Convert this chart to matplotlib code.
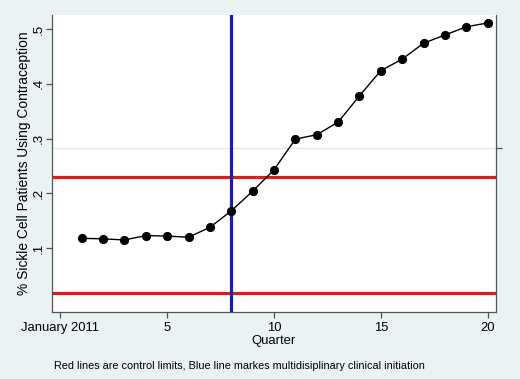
import matplotlib
matplotlib.use("Agg")
import matplotlib.pyplot as plt

plt.rcParams['font.family'] = ['Liberation Sans', 'DejaVu Sans']

quarters = list(range(1, 21))
pct_contraception = [0.118, 0.117, 0.115, 0.123, 0.122, 0.120, 0.138, 0.168,
                     0.204, 0.243, 0.299, 0.307, 0.330, 0.378, 0.424, 0.445,
                     0.474, 0.489, 0.504, 0.511]
upper_limit = 0.230
lower_limit = 0.019
center_line = 0.283
intervention_quarter = 8
x_ticks = [0, 5, 10, 15, 20]
x_ticklabels = ["January 2011", "5", "10", "15", "20"]
y_ticks = [0.1, 0.2, 0.3, 0.4, 0.5]
y_ticklabels = [".1", ".2", ".3", ".4", ".5"]

bg = "#eaf2f3"
fig = plt.figure(figsize=(5.2, 3.79), dpi=100, facecolor=bg)
ax = fig.add_axes([52/520, 1-312/379, (496-52)/520, (312-15)/379])
ax.set_facecolor("white")

ax.axhline(center_line, color="#e6e6e6", lw=0.9, zorder=1)
ax.axhline(upper_limit, color="#dc1c1c", lw=2.3, zorder=2)
ax.axhline(lower_limit, color="#dc1c1c", lw=2.3, zorder=2)
ax.axvline(intervention_quarter, color="#1c1cb4", lw=2.3, zorder=3)
ax.plot(quarters, pct_contraception, color="black", lw=1.0, marker="o",
        markersize=5.6, markerfacecolor="black", markeredgecolor="black", zorder=4)

ax.set_xlim(-0.39, 20.39)
ax.set_ylim(-0.0165, 0.5255)
ax.set_xticks(x_ticks)
ax.set_xticklabels(x_ticklabels, fontsize=9.4)
ax.set_yticks(y_ticks)
ax.set_yticklabels(y_ticklabels, fontsize=9.6, rotation=90, va="center")

for s in ["left", "bottom", "right"]:
    ax.spines[s].set_color("#555555")
    ax.spines[s].set_linewidth(0.9)
ax.spines["top"].set_visible(False)
ax.tick_params(axis="x", direction="out", length=4, width=0.9, color="#555555", pad=3)
ax.tick_params(axis="y", direction="out", length=4, width=0.9, color="#555555", pad=1)

ax2 = ax.twinx()
ax2.set_ylim(ax.get_ylim())
ax2.set_yticks([center_line])
ax2.set_yticklabels([""])
ax2.tick_params(axis="y", direction="out", length=4, width=0.9, color="#555555")
for s in ax2.spines.values():
    s.set_visible(False)

ax.set_xlabel("Quarter", fontsize=9.4, labelpad=1)
ax.set_ylabel("% Sickle Cell Patients Using Contraception", fontsize=9.9, labelpad=0)
ax.yaxis.set_label_coords(-20.5/444, 0.5)

fig.text(54/520, 1-366/379, "Red lines are control limits, Blue line markes multidisiplinary clinical initiation",
         fontsize=7.85, ha="left", va="center")

fig.savefig("out.png", dpi=100, facecolor=bg)
